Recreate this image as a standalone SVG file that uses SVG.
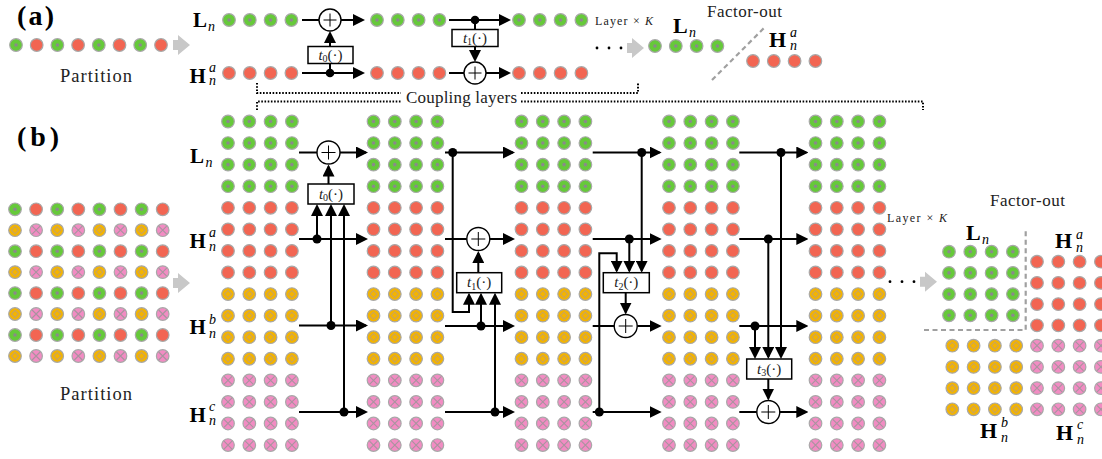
<svg xmlns="http://www.w3.org/2000/svg" width="1102" height="459" viewBox="0 0 1102 459">
<style>
.ln{stroke:#000;stroke-width:2;fill:none}
.ar{marker-end:url(#ah)}
.jd{fill:#000}
.op{fill:#fff;stroke:#000;stroke-width:1.4}
.pl{stroke:#000;stroke-width:1;fill:none}
.bx{fill:#fff;stroke:#000;stroke-width:1.5}
.tx{font-family:'Liberation Serif','Times New Roman',serif;font-size:17px;fill:#222}
.pt{font-family:'Liberation Serif','Times New Roman',serif;font-size:18.5px;fill:#222}
.sm{font-family:'Liberation Serif','Times New Roman',serif;font-size:12px;fill:#222}
.bt{font-family:'Liberation Serif','Times New Roman',serif;font-size:15px;fill:#222}
.bf{font-family:'Liberation Serif','Times New Roman',serif;font-weight:bold;font-size:21px;fill:#000}
.bg{font-family:'Liberation Serif','Times New Roman',serif;font-weight:bold;font-size:22px;fill:#000}
.it{font-family:'Liberation Serif','Times New Roman',serif;font-style:italic;font-size:14px;fill:#000}
.pn{font-family:'Liberation Serif','Times New Roman',serif;font-weight:bold;font-size:28px;fill:#000}
.dot{stroke:#a8a8a8;stroke-width:1.2}
.dt{stroke:#000;stroke-width:2;stroke-dasharray:1.6 1.6;fill:none}
.gd{stroke:#a0a0a0;stroke-width:2.2;stroke-dasharray:5 3.5;fill:none}
.ga{fill:#c8c8c8}
</style>
<defs>
<marker id="ah" markerUnits="userSpaceOnUse" markerWidth="12" markerHeight="12" refX="10" refY="6" orient="auto"><path d="M0,0 L12,6 L0,12 Z" fill="#000"/></marker>
<g id="G"><circle r="6.3" fill="#66c93a" class="dot"/><circle r="1.8" fill="#8a8a8a"/></g>
<g id="R"><circle r="6.3" fill="#f26552" class="dot"/></g>
<g id="Y"><circle r="6.3" fill="#f4b400" class="dot"/><path d="M0,-3.6 L3.6,0 L0,3.6 L-3.6,0Z" fill="none" stroke="#c9a45a" stroke-width="1.1"/></g>
<g id="P"><circle r="6.3" fill="#f28cc3" class="dot"/><path d="M-4,-4 L4,4 M4,-4 L-4,4" stroke="#a8949e" stroke-width="1.1"/></g>
<g id="rG"><use href="#G" x="0"/><use href="#G" x="21.3"/><use href="#G" x="42.6"/><use href="#G" x="63.9"/></g>
<g id="rR"><use href="#R" x="0"/><use href="#R" x="21.3"/><use href="#R" x="42.6"/><use href="#R" x="63.9"/></g>
<g id="rY"><use href="#Y" x="0"/><use href="#Y" x="21.3"/><use href="#Y" x="42.6"/><use href="#Y" x="63.9"/></g>
<g id="rP"><use href="#P" x="0"/><use href="#P" x="21.3"/><use href="#P" x="42.6"/><use href="#P" x="63.9"/></g>
<g id="aG"><use href="#G" x="0"/><use href="#G" x="20.8"/><use href="#G" x="41.6"/><use href="#G" x="62.4"/></g>
<g id="aR"><use href="#R" x="0"/><use href="#R" x="20.8"/><use href="#R" x="41.6"/><use href="#R" x="62.4"/></g>
<g id="pA"><use href="#G" x="0"/><use href="#R" x="21.1"/><use href="#G" x="42.2"/><use href="#R" x="63.3"/><use href="#G" x="84.4"/><use href="#R" x="105.5"/><use href="#G" x="126.6"/><use href="#R" x="147.7"/></g>
<g id="pB"><use href="#Y" x="0"/><use href="#P" x="21.1"/><use href="#Y" x="42.2"/><use href="#P" x="63.3"/><use href="#Y" x="84.4"/><use href="#P" x="105.5"/><use href="#Y" x="126.6"/><use href="#P" x="147.7"/></g>
<g id="col">
<use href="#rG" y="0"/><use href="#rG" y="21.57"/><use href="#rG" y="43.14"/><use href="#rG" y="64.71"/>
<use href="#rR" y="86.28"/><use href="#rR" y="107.85"/><use href="#rR" y="129.42"/><use href="#rR" y="150.99"/>
<use href="#rY" y="172.56"/><use href="#rY" y="194.13"/><use href="#rY" y="215.7"/><use href="#rY" y="237.27"/>
<use href="#rP" y="258.84"/><use href="#rP" y="280.41"/><use href="#rP" y="301.98"/><use href="#rP" y="323.55"/>
</g>
<polygon id="garr" points="0,-5 5,-5 5,-10 17,0 5,10 5,5 0,5"/>
<g id="plus"><circle r="11.5" class="op"/><path d="M-7,0 H7 M0,-7 V7" class="pl"/></g>
<g id="plusA"><circle r="11" class="op"/><path d="M-6.5,0 H6.5 M0,-6.5 V6.5" class="pl"/></g>
</defs>

<!-- ===== (a) ===== -->
<g id="a-title"><text class="pn" x="17" y="25" textLength="37">(a)</text></g>
<g id="a-partition">
<use href="#G" x="16" y="45"/><use href="#R" x="36.7" y="45"/><use href="#G" x="57.4" y="45"/><use href="#R" x="78.1" y="45"/><use href="#G" x="98.8" y="45"/><use href="#R" x="119.5" y="45"/><use href="#G" x="140.2" y="45"/><use href="#R" x="161" y="45"/>
<use href="#garr" class="ga" x="173" y="45"/>
<text class="pt" x="60" y="81.5" textLength="72">Partition</text>
</g>
<g id="a-in">
<text class="bf" x="193" y="26.5">L</text><text class="it" x="208" y="30.5">n</text>
<text class="bf" x="189.5" y="82.5">H</text><text class="it" x="209" y="72">a</text><text class="it" x="209" y="85">n</text>
<use href="#aG" x="229" y="20"/><use href="#aR" x="229" y="73"/>
</g>
<g id="a-mid"><use href="#aG" x="377" y="20"/><use href="#aR" x="377" y="73"/></g>
<g id="a-out"><use href="#aG" x="519" y="20"/><use href="#aR" x="519" y="73"/>
<text class="sm" x="595" y="24.5" textLength="58">Layer × <tspan font-style="italic">K</tspan></text>
</g>
<g id="a-t0"><rect class="bx" x="308" y="46.5" width="45" height="17"/><text class="bt" x="330.5" y="59.5" text-anchor="middle"><tspan font-style="italic">t</tspan><tspan font-size="10" dy="2.5">0</tspan><tspan dy="-2.5">(·)</tspan></text></g>
<g id="a-t1"><rect class="bx" x="452" y="29.5" width="46" height="17"/><text class="bt" x="475" y="42.5" text-anchor="middle"><tspan font-style="italic">t</tspan><tspan font-size="10" dy="2.5">1</tspan><tspan dy="-2.5">(·)</tspan></text></g>
<g id="a-factor">
<circle cx="597" cy="48" r="1.4"/><circle cx="609" cy="48" r="1.4"/><circle cx="621" cy="48" r="1.4"/>
<use href="#garr" class="ga" x="627" y="48"/>
<use href="#aG" x="655" y="46"/>
<text class="bg" x="673" y="33">L</text><text class="it" x="689" y="37">n</text>
<text class="tx" x="707" y="17" textLength="75">Factor-out</text>
<path class="gd" d="M712,80 L766,26"/>
<text class="bg" x="769" y="47">H</text><text class="it" x="790" y="36.5">a</text><text class="it" x="790" y="50">n</text>
<use href="#aR" x="753" y="61"/>
</g>
<g id="coupling">
<path class="dt" d="M257,83 V93 H401 M521,93 H638 V83"/>
<path class="dt" d="M257,110 V101.5 H401 M521,101.5 H923 V110"/>
<text class="tx" x="406" y="102.5" textLength="111">Coupling layers</text>
</g>

<!-- ===== (b) ===== -->
<g id="b-title"><text class="pn" x="17" y="146" textLength="42">(b)</text></g>
<g id="b-partition">
<use href="#pA" x="15" y="209.3"/><use href="#pB" x="15" y="230.2"/><use href="#pA" x="15" y="251.2"/><use href="#pB" x="15" y="272.1"/>
<use href="#pA" x="15" y="293.1"/><use href="#pB" x="15" y="314"/><use href="#pA" x="15" y="335"/><use href="#pB" x="15" y="356"/>
<use href="#garr" class="ga" x="173" y="283"/>
<text class="pt" x="60" y="400" textLength="72">Partition</text>
</g>
<g id="b-labels">
<text class="bf" x="190" y="163">L</text><text class="it" x="205.5" y="167">n</text>
<text class="bf" x="189.5" y="247.5">H</text><text class="it" x="209" y="237">a</text><text class="it" x="209" y="251">n</text>
<text class="bf" x="189.5" y="334">H</text><text class="it" x="209" y="323.5">b</text><text class="it" x="209" y="337.5">n</text>
<text class="bf" x="189.5" y="421.5">H</text><text class="it" x="209" y="411">c</text><text class="it" x="209" y="425">n</text>
</g>
<g id="b-col1"><use href="#col" x="228" y="121.5"/></g>
<g id="b-col2"><use href="#col" x="373.5" y="121.5"/></g>
<g id="b-col3"><use href="#col" x="521.5" y="121.5"/></g>
<g id="b-col4"><use href="#col" x="669" y="121.5"/></g>
<g id="b-col5"><use href="#col" x="815.5" y="121.5"/></g>

<g id="connectors">
<!-- (a) -->
<path class="ln" d="M302,20 H319"/>
<path class="ln ar" d="M341,20 H363"/>
<path class="ln ar" d="M330,46.5 V33"/>
<path class="ln ar" d="M302,73 H363"/>
<path class="ln" d="M330,73 V63.5"/>
<path class="ln ar" d="M449,20 H509"/>
<path class="ln" d="M475,20 V29.5"/>
<path class="ln ar" d="M475,46.5 V60"/>
<path class="ln" d="M449,73 H464"/>
<path class="ln ar" d="M486,73 H509"/>
<!-- (b) stage 1 -->
<path class="ln" d="M299,152.5 H317"/>
<path class="ln ar" d="M340,152.5 H366"/>
<path class="ln ar" d="M328.5,184 V166.5"/>
<path class="ln ar" d="M299,239 H366"/>
<path class="ln ar" d="M317,239 V206"/>
<path class="ln ar" d="M299,325.5 H366"/>
<path class="ln ar" d="M331,325.5 V206"/>
<path class="ln ar" d="M299,412 H366"/>
<path class="ln ar" d="M344,412 V206"/>
<!-- stage 2 -->
<path class="ln ar" d="M445,152.5 H513"/>
<path class="ln ar" d="M452.7,152.5 V312 H469 V294.7"/>
<path class="ln" d="M445,239 H466.8"/>
<path class="ln ar" d="M489.8,239 H513"/>
<path class="ln ar" d="M478.3,272.7 V253"/>
<path class="ln ar" d="M445,326 H513"/>
<path class="ln ar" d="M481,326 V294.7"/>
<path class="ln ar" d="M445,412 H513"/>
<path class="ln ar" d="M495,412 V294.7"/>
<!-- stage 3 -->
<path class="ln ar" d="M592.7,152.5 H659.7"/>
<path class="ln ar" d="M641.7,152.5 V270.7"/>
<path class="ln ar" d="M592.7,239 H659.7"/>
<path class="ln ar" d="M629.3,239 V270.7"/>
<path class="ln ar" d="M592.7,412 H659.7"/>
<path class="ln ar" d="M599.3,412 V253.3 H616.7 V270.7"/>
<path class="ln ar" d="M625.7,292.7 V312.5"/>
<path class="ln" d="M592.7,326 H614.2"/>
<path class="ln ar" d="M637.2,326 H659.7"/>
<!-- stage 4 -->
<path class="ln ar" d="M739.3,152.5 H806.3"/>
<path class="ln ar" d="M781,152.5 V357"/>
<path class="ln ar" d="M739.3,239 H806.3"/>
<path class="ln ar" d="M768.3,239 V357"/>
<path class="ln ar" d="M739.3,326 H806.3"/>
<path class="ln ar" d="M755,326 V357"/>
<path class="ln ar" d="M768.3,379 V398.5"/>
<path class="ln" d="M739.3,412 H756.8"/>
<path class="ln ar" d="M779.8,412 H806.3"/>
<!-- junctions -->
<circle class="jd" cx="330" cy="73" r="4.3"/>
<circle class="jd" cx="475" cy="20" r="4.3"/>
<circle class="jd" cx="317" cy="239" r="4.5"/>
<circle class="jd" cx="331" cy="325.5" r="4.5"/>
<circle class="jd" cx="344" cy="412" r="4.5"/>
<circle class="jd" cx="452.7" cy="152.5" r="4.5"/>
<circle class="jd" cx="481" cy="326" r="4.5"/>
<circle class="jd" cx="495" cy="412" r="4.5"/>
<circle class="jd" cx="641.7" cy="152.5" r="4.5"/>
<circle class="jd" cx="629.3" cy="239" r="4.5"/>
<circle class="jd" cx="599.3" cy="412" r="4.5"/>
<circle class="jd" cx="781" cy="152.5" r="4.5"/>
<circle class="jd" cx="768.3" cy="239" r="4.5"/>
<circle class="jd" cx="755" cy="326" r="4.5"/>
</g>

<g id="a-add0"><use href="#plusA" x="330" y="20"/></g>
<g id="a-add1"><use href="#plusA" x="475" y="73"/></g>
<g id="b-add0"><use href="#plus" x="328.5" y="152.5"/></g>
<g id="b-add1"><use href="#plus" x="478.3" y="239"/></g>
<g id="b-add2"><use href="#plus" x="625.7" y="326"/></g>
<g id="b-add3"><use href="#plus" x="768.3" y="412"/></g>
<g id="b-t0"><rect class="bx" x="308" y="184" width="46" height="20"/><text class="bt" x="331" y="198.5" text-anchor="middle"><tspan font-style="italic">t</tspan><tspan font-size="10" dy="2.5">0</tspan><tspan dy="-2.5">(·)</tspan></text></g>
<g id="b-t1"><rect class="bx" x="456.7" y="272.7" width="45" height="20"/><text class="bt" x="479.2" y="287.2" text-anchor="middle"><tspan font-style="italic">t</tspan><tspan font-size="10" dy="2.5">1</tspan><tspan dy="-2.5">(·)</tspan></text></g>
<g id="b-t2"><rect class="bx" x="603.3" y="272.7" width="46" height="20"/><text class="bt" x="626.3" y="287.2" text-anchor="middle"><tspan font-style="italic">t</tspan><tspan font-size="10" dy="2.5">2</tspan><tspan dy="-2.5">(·)</tspan></text></g>
<g id="b-t3"><rect class="bx" x="746.7" y="359" width="45" height="20"/><text class="bt" x="769.2" y="373.5" text-anchor="middle"><tspan font-style="italic">t</tspan><tspan font-size="10" dy="2.5">3</tspan><tspan dy="-2.5">(·)</tspan></text></g>

<g id="b-factor">
<text class="sm" x="887" y="222" textLength="60">Layer × <tspan font-style="italic">K</tspan></text>
<circle cx="890" cy="281.7" r="1.4"/><circle cx="902" cy="281.7" r="1.4"/><circle cx="914" cy="281.7" r="1.4"/>
<use href="#garr" class="ga" x="920" y="281.7"/>
<text class="tx" x="990" y="206" textLength="75">Factor-out</text>
<text class="bg" x="966" y="240">L</text><text class="it" x="982" y="244">n</text>
<use href="#rG" x="949" y="251.7"/><use href="#rG" x="949" y="272.9"/><use href="#rG" x="949" y="294.1"/><use href="#rG" x="949" y="315.3"/>
<path class="gd" d="M924,330 H1025.7 V229"/>
<text class="bg" x="1055" y="248">H</text><text class="it" x="1076" y="238.5">a</text><text class="it" x="1076" y="251.5">n</text>
<use href="#rR" x="1037" y="261.7"/><use href="#rR" x="1037" y="282.9"/><use href="#rR" x="1037" y="304.1"/><use href="#rR" x="1037" y="325.3"/>
<use href="#rY" x="952.3" y="345.7"/><use href="#rY" x="952.3" y="366.9"/><use href="#rY" x="952.3" y="388.1"/><use href="#rY" x="952.3" y="409.3"/>
<use href="#rP" x="1037" y="345.7"/><use href="#rP" x="1037" y="366.9"/><use href="#rP" x="1037" y="388.1"/><use href="#rP" x="1037" y="409.3"/>
<text class="bg" x="980" y="438.3">H</text><text class="it" x="1001" y="427">b</text><text class="it" x="1001" y="442">n</text>
<text class="bg" x="1056" y="440">H</text><text class="it" x="1077" y="429">c</text><text class="it" x="1077" y="443.5">n</text>
</g>
</svg>
